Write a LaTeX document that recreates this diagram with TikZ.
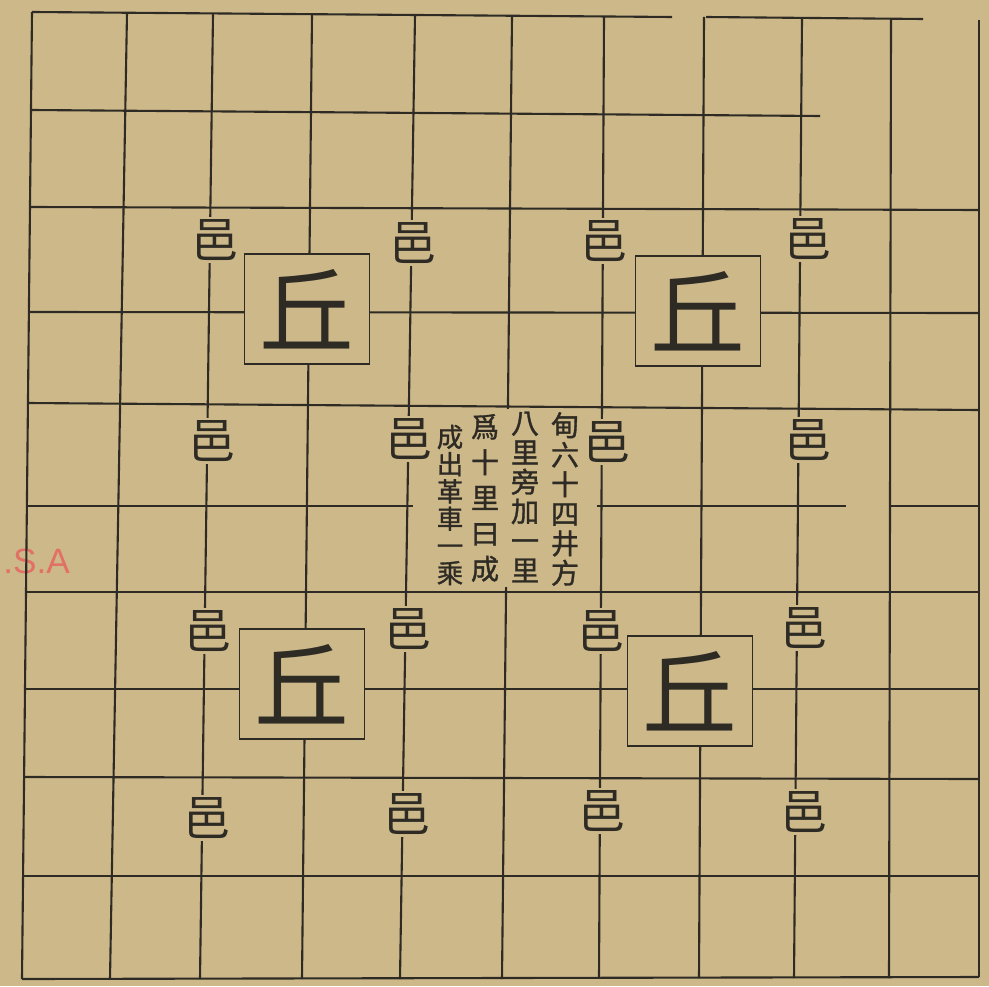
\documentclass[tikz,border=0pt]{standalone}
\usepackage{fontspec}
\newfontfamily\cjk{Noto Sans CJK TC}
\newfontfamily\cjkheavy[FakeBold=1.2]{Noto Sans CJK TC}
\setsansfont{Liberation Sans}
\definecolor{paper}{RGB}{205,184,138}
\definecolor{ink}{RGB}{46,43,36}
\definecolor{stampred}{RGB}{226,112,100}

\begin{document}
\begin{tikzpicture}[
  x=0.02cm, y=-0.02cm,
  gridline/.style={draw=ink, line width=1.2pt},
  qiu/.style={rectangle, draw=ink, line width=1.1pt, fill=paper, minimum width=2.5cm, minimum height=2.2cm, inner sep=0pt, text=ink, font=\cjk\fontsize{54}{54}\selectfont},
  yi/.style={fill=paper, inner sep=1.5pt, text=ink, font=\cjk\fontsize{27}{27}\selectfont},
  column/.style={inner sep=0pt, align=center, text=ink, font=\cjkheavy\fontsize{16}{16.8}\selectfont},
  blank/.style={fill=paper, inner sep=0pt, minimum width=3.7cm, minimum height=3.56cm}
]

\useasboundingbox[fill=paper] (0,0) rectangle (989,986);

\node[anchor=west, inner sep=0pt, text=stampred, font=\sffamily\fontsize{20}{20}\selectfont] (stamp) at (3,561) {.S.A};

\draw[gridline] (32,12) -- (672,17);
\draw[gridline] (706,17) -- (923,19);
\draw[gridline] (31,110) -- (820,116);
\draw[gridline] (30,207) -- (979,210);
\draw[gridline] (29,312) -- (979,313);
\draw[gridline] (28,403) -- (979,410);
\draw[gridline] (27,506) -- (846,506);
\draw[gridline] (889,506) -- (979,506);
\draw[gridline] (26,592) -- (979,592);
\draw[gridline] (25,689) -- (979,689);
\draw[gridline] (24,777) -- (979,779);
\draw[gridline] (23,876) -- (979,876);
\draw[gridline] (22,979) -- (979,977);

\draw[gridline] (32,12) -- (22,979);
\draw[gridline] (127,13) -- (110,979);
\draw[gridline] (213,14) -- (200,979);
\draw[gridline] (312,14) -- (302,979);
\draw[gridline] (415,15) -- (400,979);
\draw[gridline] (512,16) -- (502,979);
\draw[gridline] (604,17) -- (599,978);
\draw[gridline] (704,17) -- (699,978);
\draw[gridline] (802,18) -- (794,978);
\draw[gridline] (891,19) -- (889,978);
\draw[gridline] (979,20) -- (979,977);

\node[blank] (centre) at (505,498) {};
\node[column] (col1) at (565,499) {甸\\六\\十\\四\\井\\方};
\node[column] (col2) at (525,497) {八\\里\\旁\\加\\一\\里};
\node[column, font=\cjkheavy\fontsize{16}{20.2}\selectfont] (col3) at (485,498) {爲\\十\\里\\曰\\成};
\node[column, font=\cjkheavy\fontsize{15}{15.5}\selectfont] (col4) at (450,505) {成\\出\\革\\車\\一\\乘};

\node[qiu] (qiu1) at (307,309) {丘};
\node[qiu] (qiu2) at (698,311) {丘};
\node[qiu] (qiu3) at (302,684) {丘};
\node[qiu] (qiu4) at (690,691) {丘};

\node[yi] (yi1) at (215,240) {邑};
\node[yi] (yi2) at (413,243) {邑};
\node[yi] (yi3) at (604,241) {邑};
\node[yi] (yi4) at (808,239) {邑};
\node[yi] (yi5) at (212,441) {邑};
\node[yi] (yi6) at (409,439) {邑};
\node[yi] (yi7) at (607,442) {邑};
\node[yi] (yi8) at (808,440) {邑};
\node[yi] (yi9) at (208,631) {邑};
\node[yi] (yi10) at (408,629) {邑};
\node[yi] (yi11) at (601,631) {邑};
\node[yi] (yi12) at (804,628) {邑};
\node[yi] (yi13) at (207,818) {邑};
\node[yi] (yi14) at (407,814) {邑};
\node[yi] (yi15) at (602,811) {邑};
\node[yi] (yi16) at (804,812) {邑};

\end{tikzpicture}
\end{document}
